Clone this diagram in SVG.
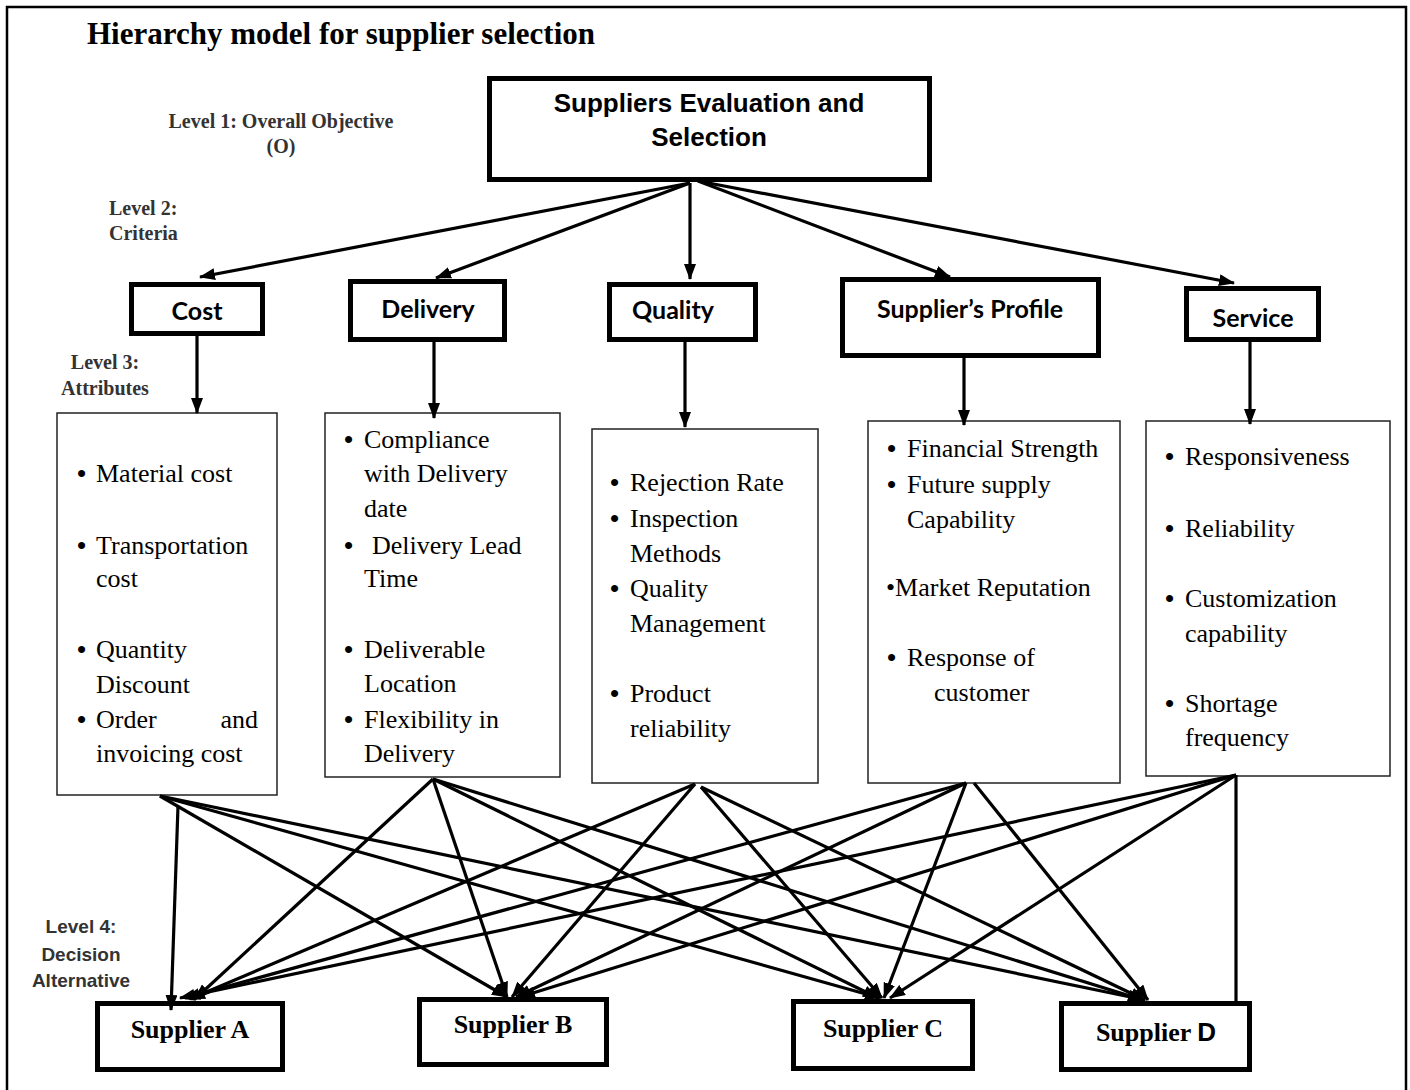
<svg xmlns="http://www.w3.org/2000/svg" width="1410" height="1090" viewBox="0 0 1410 1090">
<defs>
<marker id="ah" markerUnits="userSpaceOnUse" markerWidth="16" markerHeight="12" refX="15" refY="6" orient="auto">
<path d="M0,0 L16,6 L0,12 z" fill="#000"/>
</marker>
<style>
.frame{fill:#fff;stroke:#000;stroke-width:2.5}
.thick{fill:#fff;stroke:#000;stroke-width:5}
.thin{fill:#fff;stroke:#222;stroke-width:1.5}
.conn line{stroke:#000;stroke-width:3.2;fill:none}
.arr{marker-end:url(#ah)}
.title{font-family:"Liberation Serif","Times New Roman",serif;font-weight:bold;font-size:31px;fill:#000}
.lvl{font-family:"Liberation Serif","Times New Roman",serif;font-weight:bold;font-size:20px;fill:#333}
.lvl4{font-family:"Liberation Sans",Arial,sans-serif;font-weight:bold;font-size:19px;fill:#333;text-anchor:middle}
.obj{font-family:"Liberation Sans",Arial,sans-serif;font-weight:bold;font-size:26px;fill:#000;text-anchor:middle}
.crit{font-family:Lato,"Open Sans",sans-serif;font-weight:bold;font-size:25px;fill:#000;text-anchor:middle}
.att{font-family:"Liberation Serif","Times New Roman",serif;font-size:26px;fill:#000}
.bul{font-family:"Liberation Sans",Arial,sans-serif;font-size:26px;fill:#000}
.sup{font-family:"Liberation Serif","Times New Roman",serif;font-weight:bold;font-size:26px;fill:#000;text-anchor:middle}
</style>
</defs>
<rect class="frame" x="7" y="7" width="1399" height="1095"/>
<text class="title" x="87" y="44">Hierarchy model for supplier selection</text>
<text class="lvl" x="281" y="128" text-anchor="middle">Level 1: Overall Objective</text>
<text class="lvl" x="281" y="153" text-anchor="middle">(O)</text>
<text class="lvl" x="109" y="215">Level 2:</text>
<text class="lvl" x="109" y="240">Criteria</text>
<text class="lvl" x="105" y="369" text-anchor="middle">Level 3:</text>
<text class="lvl" x="105" y="395" text-anchor="middle">Attributes</text>
<text class="lvl4" x="81" y="933">Level 4:</text>
<text class="lvl4" x="81" y="961">Decision</text>
<text class="lvl4" x="81" y="987">Alternative</text>

<g id="objective">
<rect class="thick" x="489.5" y="78.5" width="440" height="101"/>
<text class="obj" x="709" y="112">Suppliers Evaluation and</text>
<text class="obj" x="709" y="146">Selection</text>
</g>

<g id="crit-cost"><rect class="thick" x="131.5" y="284.5" width="131" height="49"/><text class="crit" x="197" y="320">Cost</text></g>
<g id="crit-delivery"><rect class="thick" x="350.5" y="281.5" width="154" height="58"/><text class="crit" x="428" y="318">Delivery</text></g>
<g id="crit-quality"><rect class="thick" x="609.5" y="284.5" width="146" height="55"/><text class="crit" x="673" y="319">Quality</text></g>
<g id="crit-profile"><rect class="thick" x="842.5" y="279.5" width="256" height="76"/><text class="crit" x="970" y="318">Supplier’s Profile</text></g>
<g id="crit-service"><rect class="thick" x="1186.5" y="288.5" width="132" height="51"/><text class="crit" x="1253" y="327">Service</text></g>

<g id="att-cost">
<rect class="thin" x="57" y="413" width="220" height="382"/>
<text class="bul" x="77" y="482">•</text><text class="att" x="96" y="482">Material cost</text>
<text class="bul" x="77" y="554">•</text><text class="att" x="96" y="554">Transportation</text>
<text class="att" x="96" y="587">cost</text>
<text class="bul" x="77" y="658">•</text><text class="att" x="96" y="658">Quantity</text>
<text class="att" x="96" y="693">Discount</text>
<text class="bul" x="77" y="728">•</text><text class="att" x="96" y="728">Order</text><text class="att" x="258" y="728" text-anchor="end">and</text>
<text class="att" x="96" y="762">invoicing cost</text>
</g>

<g id="att-delivery">
<rect class="thin" x="325" y="413" width="235" height="364"/>
<text class="bul" x="344" y="448">•</text><text class="att" x="364" y="448">Compliance</text>
<text class="att" x="364" y="482">with Delivery</text>
<text class="att" x="364" y="517">date</text>
<text class="bul" x="344" y="554">•</text><text class="att" x="372" y="554">Delivery Lead</text>
<text class="att" x="364" y="587">Time</text>
<text class="bul" x="344" y="658">•</text><text class="att" x="364" y="658">Deliverable</text>
<text class="att" x="364" y="692">Location</text>
<text class="bul" x="344" y="728">•</text><text class="att" x="364" y="728">Flexibility in</text>
<text class="att" x="364" y="762">Delivery</text>
</g>

<g id="att-quality">
<rect class="thin" x="592" y="429" width="226" height="354"/>
<text class="bul" x="610" y="491">•</text><text class="att" x="630" y="491">Rejection Rate</text>
<text class="bul" x="610" y="527">•</text><text class="att" x="630" y="527">Inspection</text>
<text class="att" x="630" y="562">Methods</text>
<text class="bul" x="610" y="597">•</text><text class="att" x="630" y="597">Quality</text>
<text class="att" x="630" y="632">Management</text>
<text class="bul" x="610" y="702">•</text><text class="att" x="630" y="702">Product</text>
<text class="att" x="630" y="737">reliability</text>
</g>

<g id="att-profile">
<rect class="thin" x="868" y="421" width="252" height="362"/>
<text class="bul" x="887" y="457">•</text><text class="att" x="907" y="457">Financial Strength</text>
<text class="bul" x="887" y="493">•</text><text class="att" x="907" y="493">Future supply</text>
<text class="att" x="907" y="528">Capability</text>
<text class="att" x="886" y="596">•Market Reputation</text>
<text class="bul" x="887" y="666">•</text><text class="att" x="907" y="666">Response of</text>
<text class="att" x="934" y="701">customer</text>
</g>

<g id="att-service">
<rect class="thin" x="1146" y="421" width="244" height="355"/>
<text class="bul" x="1165" y="465">•</text><text class="att" x="1185" y="465">Responsiveness</text>
<text class="bul" x="1165" y="537">•</text><text class="att" x="1185" y="537">Reliability</text>
<text class="bul" x="1165" y="607">•</text><text class="att" x="1185" y="607">Customization</text>
<text class="att" x="1185" y="642">capability</text>
<text class="bul" x="1165" y="712">•</text><text class="att" x="1185" y="712">Shortage</text>
<text class="att" x="1185" y="746">frequency</text>
</g>

<g id="supplier-a"><rect class="thick" x="97.5" y="1003.5" width="185" height="66"/><text class="sup" x="190" y="1038">Supplier A</text></g>
<g id="supplier-b"><rect class="thick" x="419.5" y="999.5" width="187" height="65"/><text class="sup" x="513" y="1033">Supplier B</text></g>
<g id="supplier-c"><rect class="thick" x="793.5" y="1001.5" width="179" height="67"/><text class="sup" x="883" y="1037">Supplier C</text></g>
<g id="supplier-d"><rect class="thick" x="1061.5" y="1003.5" width="188" height="66"/><text class="sup" x="1156" y="1041">Supplier <tspan font-family="Liberation Sans, Arial, sans-serif">D</tspan></text></g>

<g id="connectors" class="conn">
<line class="arr" x1="690" y1="183" x2="200" y2="277"/>
<line class="arr" x1="690" y1="183" x2="436" y2="278"/>
<line class="arr" x1="690" y1="183" x2="690" y2="279"/>
<line class="arr" x1="698" y1="181" x2="950" y2="277"/>
<line class="arr" x1="698" y1="181" x2="1234" y2="283"/>

<line class="arr" x1="197" y1="336" x2="197" y2="413"/>
<line class="arr" x1="434" y1="342" x2="434" y2="418"/>
<line class="arr" x1="685" y1="342" x2="685" y2="427"/>
<line class="arr" x1="964" y1="358" x2="964" y2="425"/>
<line class="arr" x1="1250" y1="342" x2="1250" y2="424"/>

<line class="arr" x1="178" y1="806" x2="171" y2="1010"/>
<line class="arr" x1="160" y1="796" x2="507" y2="997"/>
<line class="arr" x1="160" y1="796" x2="880" y2="998"/>
<line class="arr" x1="160" y1="796" x2="1145" y2="1000"/>

<line class="arr" x1="433" y1="779" x2="195" y2="999"/>
<line class="arr" x1="433" y1="779" x2="507" y2="997"/>
<line class="arr" x1="433" y1="779" x2="878" y2="998"/>
<line class="arr" x1="433" y1="779" x2="1143" y2="1000"/>

<line class="arr" x1="695" y1="784" x2="190" y2="999"/>
<line class="arr" x1="695" y1="784" x2="512" y2="997"/>
<line class="arr" x1="701" y1="787" x2="882" y2="998"/>
<line class="arr" x1="701" y1="787" x2="1145" y2="1000"/>

<line class="arr" x1="966" y1="783" x2="185" y2="998"/>
<line class="arr" x1="966" y1="783" x2="516" y2="997"/>
<line class="arr" x1="966" y1="783" x2="884" y2="998"/>
<line class="arr" x1="974" y1="783" x2="1148" y2="1000"/>

<line class="arr" x1="1236" y1="775" x2="180" y2="998"/>
<line class="arr" x1="1236" y1="775" x2="520" y2="997"/>
<line class="arr" x1="1236" y1="775" x2="890" y2="998"/>
<line x1="1236" y1="775" x2="1236" y2="1002"/>
</g>
</svg>
